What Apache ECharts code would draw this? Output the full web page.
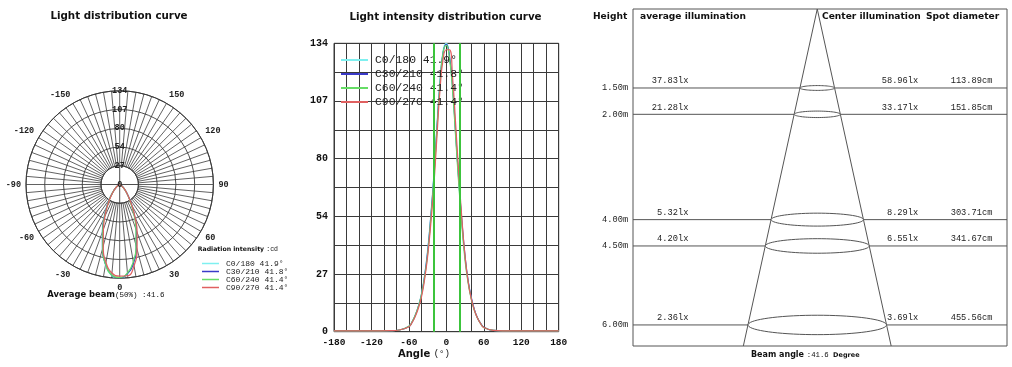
<!DOCTYPE html>
<html><head><meta charset="utf-8">
<script src="https://cdn.jsdelivr.net/npm/echarts@6/dist/echarts.min.js"></script>
<style>html,body{margin:0;padding:0;background:#fff}#c{width:1012px;height:367px}</style>
</head><body><div id="c"></div>
<script>
// ---------- data ----------
const seriesNames = ['C0/180', 'C30/210', 'C60/240', 'C90/270'];
const beamAngles = ['41.9°', '41.8°', '41.4°', '41.4°'];
const averageBeam = 41.6;
const angles = [-180,-150,-120,-90,-75,-60,-55,-50,-45,-40,-35,-30,-25,-20,-15,-10,-5,0,5,10,15,20,25,30,35,40,45,50,55,60,75,90,120,150,180];
const intensityC0   = [0.4,0.4,0.4,0.5,0.8,2.6,4.6,7.6,11.8,17.5,26,38,54,73,96,117,131,134,128,113,91,69,50,34,23,15.5,10,6.3,3.8,2.1,0.6,0.4,0.4,0.4,0.4];
const intensityC30  = [0.4,0.4,0.4,0.5,0.8,2.4,4.4,7.4,11.5,17,25.5,37,53,72,95,116,130,133.5,128,114,92,70,51,35,23.5,15.8,10.2,6.4,3.9,2.2,0.6,0.4,0.4,0.4,0.4];
const intensityC60  = [0.4,0.4,0.4,0.5,0.8,2.5,4.5,7.5,11.5,17,25,36,52,71,94,116,130,133,127,112,90,68,49,33,22.5,15,9.8,6.2,3.7,2.0,0.6,0.4,0.4,0.4,0.4];
const intensityC90  = [0.4,0.4,0.4,0.5,0.8,2.3,4.2,7.0,10.8,16,24,35,50,68,91,113,127,131,131,118,96,73,52,35,23,15.2,9.9,6.2,3.7,2.0,0.6,0.4,0.4,0.4,0.4];
const intensities = [intensityC0, intensityC30, intensityC60, intensityC90];
const maxIntensity = 134;

const heights = [1.5, 2.0, 4.0, 4.5, 6.0];           // m
const avgIllum = ['37.83lx', '21.28lx', '5.32lx', '4.20lx', '2.36lx'];
const centerIllum = ['58.96lx', '33.17lx', '8.29lx', '6.55lx', '3.69lx'];
const spotDiameter = [113.89, 151.85, 303.71, 341.67, 455.56]; // cm

// ---------- style ----------
const colors = ['#7ff0f0', '#3a3ac8', '#66dd66', '#e06060'];
const SANS = '"DejaVu Sans", Verdana, sans-serif';
const MONO = '"Liberation Mono", "Courier New", monospace';
const GRID = '#3a3a3a';
const PC = [119.7, 184.5], PR = 93.7;
const depthMax = 6.4, xMin = -6.06, xMax = 6.24;

const chart = echarts.init(document.getElementById('c'), null, {renderer: 'canvas'});

const series = [];
// inner cross of the polar grid
const r0 = maxIntensity / 5;
series.push({type: 'line', coordinateSystem: 'polar', polarIndex: 1, silent: true, symbol: 'none', z: 1,
  data: [[r0, -180], [0, 0], [r0, 0]], lineStyle: {color: GRID, width: 0.9}});
series.push({type: 'line', coordinateSystem: 'polar', polarIndex: 1, silent: true, symbol: 'none', z: 1,
  data: [[r0, -90], [0, 0], [r0, 90]], lineStyle: {color: GRID, width: 0.9}});

seriesNames.forEach((n, i) => {
  series.push({
    name: n, type: 'line', coordinateSystem: 'polar', polarIndex: 1,
    data: angles.map((a, k) => [intensities[i][k], a]),
    smooth: true, showSymbol: false, symbol: 'none',
    lineStyle: {color: colors[i], width: 1.2}, itemStyle: {color: colors[i]}, z: 3
  });
});
seriesNames.forEach((n, i) => {
  const s = {
    name: n, type: 'line', xAxisIndex: 0, yAxisIndex: 0,
    data: angles.map((a, k) => [a, intensities[i][k]]),
    smooth: true, showSymbol: false, symbol: 'none',
    lineStyle: {color: colors[i], width: 1.2}, itemStyle: {color: colors[i]}, z: 3
  };
  if (i === 2) {
    s.markLine = {silent: true, symbol: 'none', label: {show: false},
      lineStyle: {color: '#3cc43c', width: 2, type: 'solid'},
      data: [{xAxis: -averageBeam / 2}, {xAxis: averageBeam / 2}]};
  }
  series.push(s);
});

// cone
const halfW = depthMax * Math.tan(averageBeam / 2 * Math.PI / 180);
series.push({
  type: 'line', xAxisIndex: 1, yAxisIndex: 1, symbol: 'none', silent: true,
  data: [[-halfW, depthMax], [0, 0], [halfW, depthMax]],
  lineStyle: {color: '#555', width: 1}, z: 2
});
// height lines, ellipses, texts
series.push({
  type: 'custom', xAxisIndex: 1, yAxisIndex: 1, silent: true, z: 4,
  data: heights.map((h, i) => [h, spotDiameter[i]]),
  renderItem: (params, api) => {
    const i = params.dataIndex;
    const h = api.value(0), d = api.value(1) / 100;
    const L = api.coord([xMin, h]), Rt = api.coord([xMax, h]);
    const c = api.coord([0, h]), e = api.coord([d / 2, h]);
    const rx = e[0] - c[0], ry = rx * 0.14;
    const pts = [];
    for (let k = 0; k < 72; k++) {
      const t = k / 72 * Math.PI * 2;
      pts.push([c[0] + rx * Math.cos(t), c[1] + ry * Math.sin(t)]);
    }
    const tf = '8.7px ' + MONO;
    const ty = c[1] - 7;
    return {type: 'group', children: [
      {type: 'line', shape: {x1: L[0], y1: L[1], x2: Rt[0], y2: Rt[1]}, style: {stroke: '#555', lineWidth: 1}},
      {type: 'polygon', shape: {points: pts}, style: {fill: '#fff', stroke: '#555', lineWidth: 1}},
      {type: 'text', x: api.coord([-6.22, h])[0], y: c[1], style: {text: h.toFixed(2) + 'm', font: tf, fill: '#222', align: 'right', verticalAlign: 'middle'}},
      {type: 'text', x: api.coord([-4.24, h])[0], y: ty, style: {text: avgIllum[i], font: tf, fill: '#222', align: 'right', verticalAlign: 'middle'}},
      {type: 'text', x: api.coord([3.32, h])[0], y: ty, style: {text: centerIllum[i], font: tf, fill: '#222', align: 'right', verticalAlign: 'middle'}},
      {type: 'text', x: api.coord([5.76, h])[0], y: ty, style: {text: api.value(1).toFixed(2) + 'cm', font: tf, fill: '#222', align: 'right', verticalAlign: 'middle'}}
    ]};
  }
});

const legendFmt = name => name + ' ' + beamAngles[seriesNames.indexOf(name)];

const option = {
  backgroundColor: '#fff',
  animation: false,
  textStyle: {fontFamily: SANS},
  polar: [
    {center: PC, radius: [PR / 5, PR]},
    {center: PC, radius: [0, PR]}
  ],
  angleAxis: [
    {polarIndex: 0, type: 'value', min: -180, max: 180, interval: 5, startAngle: 90, clockwise: false,
      axisLine: {lineStyle: {color: GRID, width: 1}}, axisTick: {show: false},
      axisLabel: {margin: 5, color: '#222', fontFamily: MONO, fontSize: 8.5, fontWeight: 'bold',
        formatter: v => (v % 30 === 0 && Math.abs(v) !== 180) ? String(v) : ''},
      splitLine: {show: true, lineStyle: {color: GRID, width: 0.8}}},
    {polarIndex: 1, type: 'value', min: -180, max: 180, interval: 90, startAngle: 90, clockwise: false,
      axisLine: {show: false}, axisTick: {show: false}, axisLabel: {show: false},
      splitLine: {show: false}}
  ],
  radiusAxis: [
    {polarIndex: 0, type: 'value', min: maxIntensity / 5, max: maxIntensity, interval: maxIntensity / 5,
      axisLine: {show: false}, axisTick: {show: false}, axisLabel: {show: false},
      splitLine: {show: true, lineStyle: {color: GRID, width: 0.9}}},
    {polarIndex: 1, type: 'value', min: 0, max: maxIntensity, interval: maxIntensity / 5,
      axisLine: {show: false}, axisTick: {show: false}, splitLine: {show: false},
      axisLabel: {margin: 0, align: 'center', verticalAlign: 'middle', color: '#222', fontFamily: MONO, fontSize: 8.5, fontWeight: 'bold',
        formatter: v => String(Math.round(v))}, z: 5}
  ],
  grid: [
    {left: 334, right: 1012 - 558.7, top: 43.3, bottom: 367 - 331.7, show: true, borderColor: GRID, borderWidth: 1, backgroundColor: 'transparent'},
    {left: 633, right: 5, top: 9, bottom: 21, show: true, borderColor: '#555', borderWidth: 1}
  ],
  xAxis: [
    {gridIndex: 0, type: 'value', min: -180, max: 180, interval: 20,
      axisLine: {show: false}, axisTick: {show: false},
      axisLabel: {margin: 6, color: '#111', fontFamily: MONO, fontWeight: 'bold', fontSize: 9.5,
        formatter: v => v % 60 === 0 ? String(v) : ''},
      splitLine: {show: true, lineStyle: {color: GRID, width: 1}}},
    {gridIndex: 1, type: 'value', min: xMin, max: xMax, show: false}
  ],
  yAxis: [
    {gridIndex: 0, type: 'value', min: 0, max: maxIntensity, interval: maxIntensity / 10,
      axisLine: {show: false}, axisTick: {show: false},
      axisLabel: {margin: 6, color: '#111', fontFamily: MONO, fontWeight: 'bold', fontSize: 10,
        formatter: (v, i) => i % 2 === 0 ? String(Math.round(v)) : ''},
      splitLine: {show: true, lineStyle: {color: GRID, width: 1}}},
    {gridIndex: 1, type: 'value', min: 0, max: depthMax, inverse: true, show: false}
  ],
  legend: [
    {data: seriesNames, orient: 'vertical', left: 336, top: 49.5, itemWidth: 27, itemHeight: 2, itemGap: 3,
      icon: 'rect', formatter: legendFmt, selectedMode: false,
      textStyle: {fontFamily: MONO, fontSize: 11.4, color: '#222', padding: [0, 0, 0, 2]}},
    {data: seriesNames, orient: 'vertical', left: 197, top: 254.5, itemWidth: 17, itemHeight: 1.5, itemGap: 0,
      icon: 'rect', formatter: legendFmt, selectedMode: false,
      textStyle: {fontFamily: MONO, fontSize: 8, color: '#222', padding: [0, 0, 0, 2]}}
  ],
  graphic: [
    {type: 'text', x: 119, y: 16, style: {text: 'Light distribution curve', font: 'bold 10.3px ' + SANS, fill: '#111', align: 'center', verticalAlign: 'middle'}},
    {type: 'text', x: 445.5, y: 17, style: {text: 'Light intensity distribution curve', font: 'bold 10.3px ' + SANS, fill: '#111', align: 'center', verticalAlign: 'middle'}},
    {type: 'text', x: 47.3, y: 295, style: {text: '{a|Average beam}{b|(50%) :' + averageBeam + '}', verticalAlign: 'middle',
      rich: {a: {font: 'bold 8.4px ' + SANS, fill: '#111'}, b: {font: '7.5px ' + MONO, fill: '#111'}}}},
    {type: 'text', x: 197.7, y: 249, style: {text: '{a|Radiation intensity }{b|:cd}', verticalAlign: 'middle',
      rich: {a: {font: 'bold 6.2px ' + SANS, fill: '#111'}, b: {font: '6.5px ' + MONO, fill: '#111'}}}},
    {type: 'text', x: 398, y: 354, style: {text: '{a|Angle }{b|(°)}', verticalAlign: 'middle',
      rich: {a: {font: 'bold 10px ' + SANS, fill: '#111'}, b: {font: '9px ' + MONO, fill: '#111'}}}},
    {type: 'text', x: 593, y: 17, style: {text: 'Height', font: 'bold 9.1px ' + SANS, fill: '#111', verticalAlign: 'middle'}},
    {type: 'text', x: 640, y: 17, style: {text: 'average illumination', font: 'bold 9.1px ' + SANS, fill: '#111', verticalAlign: 'middle'}},
    {type: 'text', x: 822, y: 17, style: {text: 'Center illumination', font: 'bold 9.1px ' + SANS, fill: '#111', verticalAlign: 'middle'}},
    {type: 'text', x: 926, y: 17, style: {text: 'Spot diameter', font: 'bold 9.1px ' + SANS, fill: '#111', verticalAlign: 'middle'}},
    {type: 'text', x: 751, y: 355, style: {text: '{a|Beam angle }{b|:' + averageBeam + ' }{c|Degree}', verticalAlign: 'middle',
      rich: {a: {font: 'bold 8px ' + SANS, fill: '#111'}, b: {font: '7.3px ' + MONO, fill: '#111'}, c: {font: 'bold 6.5px ' + SANS, fill: '#111'}}}}
  ],
  series: series
};
chart.setOption(option);
</script></body></html>
